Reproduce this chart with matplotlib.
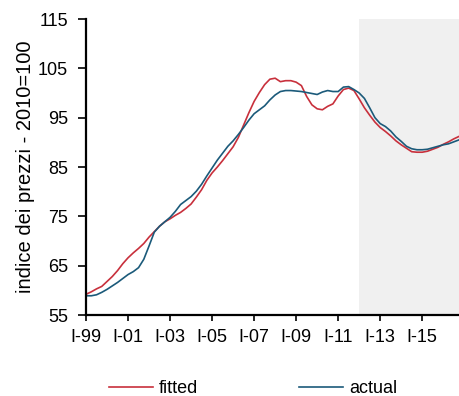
import numpy as np
import matplotlib.pyplot as plt

# quarterly index, 1999Q1 .. 2016Q4
actual = [58.9, 58.9, 59.1, 59.6, 60.2, 60.9, 61.6, 62.4, 63.2, 63.8,
          64.6, 66.3, 69.0, 71.8, 73.0, 73.9, 74.8, 76.0, 77.4, 78.2,
          79.0, 80.1, 81.5, 83.2, 84.8, 86.4, 87.8, 89.2, 90.3, 91.6,
          93.0, 94.5, 95.8, 96.6, 97.4, 98.6, 99.6, 100.3, 100.5, 100.5,
          100.4, 100.3, 100.1, 99.9, 99.7, 100.2, 100.5, 100.3, 100.3, 101.2,
          101.3, 100.7, 100.0, 98.9, 97.0, 95.0, 93.8, 93.2, 92.3, 91.1,
          90.2, 89.2, 88.7, 88.5, 88.5, 88.6, 88.9, 89.2, 89.5, 89.7,
          90.1, 90.5]
fitted = [59.2, 59.7, 60.3, 60.8, 61.8, 62.8, 64.0, 65.4, 66.6, 67.6,
          68.5, 69.5, 70.8, 71.9, 73.0, 73.9, 74.5, 75.2, 75.8, 76.6,
          77.5, 78.9, 80.4, 82.3, 83.8, 85.0, 86.3, 87.7, 89.1, 91.0,
          93.5, 96.0, 98.3, 100.1, 101.7, 102.8, 103.0, 102.3, 102.5, 102.5,
          102.2, 101.5, 99.3, 97.6, 96.8, 96.6, 97.3, 97.8, 99.4, 100.7,
          101.0, 100.5, 98.8, 97.0, 95.5, 94.1, 93.0, 92.2, 91.3, 90.3,
          89.5, 88.8, 88.1, 88.0, 88.0, 88.2, 88.6, 89.0, 89.6, 90.1,
          90.7, 91.2]
tick_labels = ['I-99', 'I-01', 'I-03', 'I-05', 'I-07', 'I-09', 'I-11', 'I-13', 'I-15']
forecast_start = 52  # 2012Q1

q = np.arange(len(actual))

plt.rcParams['font.family'] = ['Liberation Sans', 'DejaVu Sans']

fig = plt.figure(figsize=(4.59, 3.96), dpi=100)
ax = fig.add_axes([0.1874, 0.2045, 0.8126, 0.7475])

ax.axvspan(forecast_start, len(q) - 1, color='#f0f0f0', lw=0, zorder=0)
ax.plot(q, fitted, color='#c8303c', lw=1.2, label='fitted')
ax.plot(q, actual, color='#1b5a7a', lw=1.2, label='actual')

ax.set_xlim(0, len(q) - 1)
ax.set_ylim(55, 115)
ax.set_yticks(np.arange(55, 116, 10))
ax.set_xticks(np.arange(0, len(q), 8))
ax.set_xticklabels(tick_labels)

for s in ['top', 'right']:
    ax.spines[s].set_visible(False)
for s in ['left', 'bottom']:
    ax.spines[s].set_linewidth(1.6)
ax.tick_params(axis='y', length=6, width=1.2, pad=7, labelsize=13)
ax.tick_params(axis='x', length=4, width=1.2, pad=6, labelsize=13)

ax.set_ylabel('indice dei prezzi - 2010=100', fontsize=14.5)
ax.yaxis.set_label_coords(-0.137, 0.5)

fig.legend(loc='center', bbox_to_anchor=(0.552, 0.018), ncol=2, frameon=False,
           fontsize=13, handlelength=2.4, handletextpad=0.35, columnspacing=5.6)

fig.savefig('out.png', dpi=100)
